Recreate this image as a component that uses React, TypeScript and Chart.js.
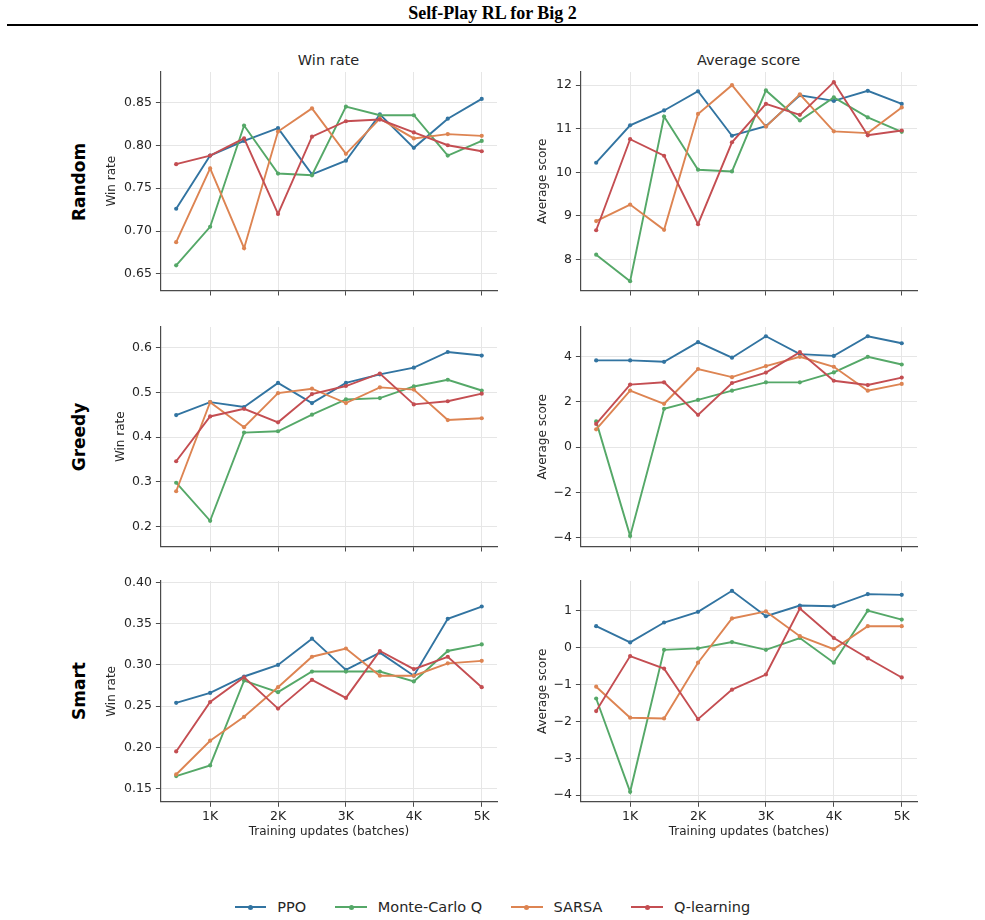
import React, { useEffect, useRef } from 'react';
import { Chart, registerables } from 'chart.js';
Chart.register(...registerables);
Chart.defaults.font.family = "'DejaVu Sans', sans-serif";

// ---------------- data ----------------
const steps = [500, 1000, 1500, 2000, 2500, 3000, 3500, 4000, 4500, 5000];
const xTickValues = [1000, 2000, 3000, 4000, 5000];
const xTickLabels = ['1K', '2K', '3K', '4K', '5K'];
const seriesNames = ['PPO', 'Monte-Carlo Q', 'SARSA', 'Q-learning'];
const seriesColors = ['#3274a1', '#55a868', '#dd8452', '#c44e52'];
const rowNames = ['Random', 'Greedy', 'Smart'];
const colNames = ['Win rate', 'Average score'];

const randomWinPPO = [0.726, 0.788, 0.805, 0.820, 0.766, 0.782, 0.836, 0.797, 0.831, 0.854];
const randomWinMCQ = [0.660, 0.705, 0.823, 0.767, 0.765, 0.845, 0.835, 0.835, 0.788, 0.805];
const randomWinSARSA = [0.687, 0.773, 0.680, 0.816, 0.843, 0.790, 0.831, 0.808, 0.813, 0.811];
const randomWinQ = [0.778, 0.788, 0.808, 0.720, 0.810, 0.828, 0.830, 0.815, 0.800, 0.793];

const randomScorePPO = [10.22, 11.08, 11.42, 11.86, 10.84, 11.06, 11.77, 11.64, 11.87, 11.57];
const randomScoreMCQ = [8.11, 7.50, 11.28, 10.06, 10.02, 11.88, 11.19, 11.72, 11.26, 10.93];
const randomScoreSARSA = [8.88, 9.26, 8.68, 11.34, 12.00, 11.05, 11.79, 10.94, 10.90, 11.49];
const randomScoreQ = [8.67, 10.76, 10.38, 8.81, 10.69, 11.57, 11.32, 12.07, 10.85, 10.96];

const greedyWinPPO = [0.449, 0.478, 0.467, 0.521, 0.476, 0.521, 0.540, 0.555, 0.590, 0.582];
const greedyWinMCQ = [0.298, 0.213, 0.410, 0.413, 0.450, 0.484, 0.487, 0.513, 0.528, 0.504];
const greedyWinSARSA = [0.279, 0.478, 0.422, 0.498, 0.508, 0.476, 0.511, 0.506, 0.438, 0.442];
const greedyWinQ = [0.346, 0.446, 0.463, 0.433, 0.496, 0.514, 0.542, 0.473, 0.480, 0.497];

const greedyScorePPO = [3.84, 3.84, 3.78, 4.65, 3.96, 4.91, 4.12, 4.04, 4.91, 4.60];
const greedyScoreMCQ = [1.14, -3.93, 1.70, 2.09, 2.50, 2.87, 2.87, 3.31, 4.00, 3.66];
const greedyScoreSARSA = [0.79, 2.50, 1.92, 3.46, 3.10, 3.59, 4.00, 3.56, 2.50, 2.80];
const greedyScoreQ = [1.03, 2.77, 2.87, 1.43, 2.84, 3.30, 4.21, 2.94, 2.75, 3.08];

const smartWinPPO = [0.254, 0.266, 0.286, 0.300, 0.332, 0.294, 0.315, 0.287, 0.356, 0.371];
const smartWinMCQ = [0.165, 0.178, 0.281, 0.267, 0.292, 0.292, 0.292, 0.280, 0.317, 0.325];
const smartWinSARSA = [0.167, 0.208, 0.237, 0.273, 0.310, 0.320, 0.287, 0.287, 0.302, 0.305];
const smartWinQ = [0.195, 0.255, 0.285, 0.247, 0.282, 0.260, 0.317, 0.295, 0.310, 0.273];

const smartScorePPO = [0.58, 0.14, 0.68, 0.97, 1.54, 0.85, 1.14, 1.12, 1.45, 1.43];
const smartScoreMCQ = [-1.38, -3.91, -0.06, -0.02, 0.15, -0.06, 0.26, -0.41, 1.00, 0.76];
const smartScoreSARSA = [-1.06, -1.90, -1.92, -0.41, 0.79, 0.98, 0.31, -0.04, 0.58, 0.58];
const smartScoreQ = [-1.72, -0.23, -0.57, -1.94, -1.14, -0.73, 1.06, 0.26, -0.29, -0.81];

const randomWinTicks = [0.65, 0.70, 0.75, 0.80, 0.85];
const randomScoreTicks = [8, 9, 10, 11, 12];
const greedyWinTicks = [0.2, 0.3, 0.4, 0.5, 0.6];
const greedyScoreTicks = [-4, -2, 0, 2, 4];
const smartWinTicks = [0.15, 0.20, 0.25, 0.30, 0.35, 0.40];
const smartScoreTicks = [-4, -3, -2, -1, 0, 1];

// ---------------- layout ----------------
const X_MIN = 275;
const X_MAX = 5225;
const COL_LEFT = [160.7, 580.7];
const COL_RIGHT = [496.3, 916.3];
const ROW_TOP = [71.7, 326.7, 581];
const ROW_BOTTOM = [292, 547.3, 801.7];

type PanelCfg = {
  row: number;
  col: number;
  series: number[][];
  yMin: number;
  yMax: number;
  yTicks: number[];
  decimals: number;
  yTitleCenter: number;
};

const panels: PanelCfg[] = [
  { row: 0, col: 0, series: [randomWinPPO, randomWinMCQ, randomWinSARSA, randomWinQ], yMin: 0.6307, yMax: 0.8854, yTicks: randomWinTicks, decimals: 2, yTitleCenter: 112 },
  { row: 0, col: 1, series: [randomScorePPO, randomScoreMCQ, randomScoreSARSA, randomScoreQ], yMin: 7.287, yMax: 12.303, yTicks: randomScoreTicks, decimals: 0, yTitleCenter: 543 },
  { row: 1, col: 0, series: [greedyWinPPO, greedyWinMCQ, greedyWinSARSA, greedyWinQ], yMin: 0.1556, yMax: 0.6458, yTicks: greedyWinTicks, decimals: 1, yTitleCenter: 121 },
  { row: 1, col: 1, series: [greedyScorePPO, greedyScoreMCQ, greedyScoreSARSA, greedyScoreQ], yMin: -4.40, yMax: 5.32, yTicks: greedyScoreTicks, decimals: 0, yTitleCenter: 543 },
  { row: 2, col: 0, series: [smartWinPPO, smartWinMCQ, smartWinSARSA, smartWinQ], yMin: 0.1338, yMax: 0.402, yTicks: smartWinTicks, decimals: 2, yTitleCenter: 112 },
  { row: 2, col: 1, series: [smartScorePPO, smartScoreMCQ, smartScoreSARSA, smartScoreQ], yMin: -4.18, yMax: 1.805, yTicks: smartScoreTicks, decimals: 0, yTitleCenter: 543 },
];

const PAD_L = 2;
const PAD_T = 14;
const PAD_R = 14;
const PAD_B = 2;
const TEXT = '#262626';
const GRID = '#e6e6e6';
const SPINE = '#4a4a4a';

function fmt(v: number, d: number) {
  return v.toFixed(d).replace('-', '\u2212');
}

function Panel({ cfg }: { cfg: PanelCfg }) {
  const ref = useRef<HTMLCanvasElement>(null);
  const bottomRow = cfg.row === 2;
  const L = COL_LEFT[cfg.col];
  const R = COL_RIGHT[cfg.col];
  const T = ROW_TOP[cfg.row];
  const B = ROW_BOTTOM[cfg.row];
  const yW = L - (cfg.yTitleCenter - 11.2);
  const xH = bottomRow ? 41.2 : 8;
  const width = Math.round(PAD_L + yW + (R - L) + PAD_R);
  const height = Math.round(PAD_T + (B - T) + xH + PAD_B);
  const left = L - yW - PAD_L;
  const top = T - PAD_T;

  useEffect(() => {
    const chart = new Chart(ref.current!, {
      type: 'line',
      data: {
        datasets: seriesNames.map((name, i) => ({
          label: name,
          data: steps.map((x, j) => ({ x, y: cfg.series[i][j] })),
          borderColor: seriesColors[i],
          backgroundColor: seriesColors[i],
          pointBackgroundColor: seriesColors[i],
          borderWidth: 1.9,
          pointRadius: 2.1,
          pointHoverRadius: 2.1,
          pointBorderWidth: 0,
          tension: 0,
          order: seriesNames.length - i,
        })),
      },
      options: {
        responsive: false,
        maintainAspectRatio: false,
        animation: false,
        devicePixelRatio: 1,
        events: [],
        layout: { padding: { left: PAD_L, top: PAD_T, right: PAD_R, bottom: PAD_B } },
        plugins: { legend: { display: false }, tooltip: { enabled: false }, title: { display: false } },
        scales: {
          x: {
            type: 'linear',
            min: X_MIN,
            max: X_MAX,
            afterBuildTicks: (s: any) => { s.ticks = xTickValues.map((v) => ({ value: v })); },
            afterFit: (s: any) => { s.height = xH; },
            grid: { color: GRID, lineWidth: 1, tickColor: SPINE, tickLength: 5, tickWidth: 1 },
            border: { color: SPINE, width: 1.2 },
            ticks: {
              display: bottomRow,
              autoSkip: false,
              maxRotation: 0,
              padding: 2,
              color: TEXT,
              font: { size: 12.5 },
              callback: (v: any) => xTickLabels[xTickValues.indexOf(Number(v))] ?? '',
            },
            title: { display: bottomRow, text: 'Training updates (batches)', color: TEXT, font: { size: 12 } },
          },
          y: {
            type: 'linear',
            min: cfg.yMin,
            max: cfg.yMax,
            afterBuildTicks: (s: any) => { s.ticks = cfg.yTicks.map((v) => ({ value: v })); },
            afterFit: (s: any) => { s.width = yW; },
            grid: { color: GRID, lineWidth: 1, tickColor: SPINE, tickLength: 5, tickWidth: 1 },
            border: { color: SPINE, width: 1.2 },
            ticks: {
              autoSkip: false,
              padding: 4,
              color: TEXT,
              font: { size: 12.5 },
              callback: (v: any) => fmt(Number(v), cfg.decimals),
            },
            title: { display: true, text: colNames[cfg.col], color: TEXT, font: { size: 12 } },
          },
        },
      },
    } as any);
    return () => chart.destroy();
  }, []);

  return (
    <canvas
      ref={ref}
      width={width}
      height={height}
      style={{ position: 'absolute', left, top, width, height, display: 'block' }}
    />
  );
}

function LegendItem({ name, color }: { name: string; color: string }) {
  return (
    <div style={{ display: 'flex', alignItems: 'center' }}>
      <div style={{ position: 'relative', width: 31.5, height: 2, background: color }}>
        <div style={{ position: 'absolute', left: 13.25, top: -1.5, width: 5, height: 5, borderRadius: '50%', background: color }} />
      </div>
      <span style={{ marginLeft: 11, fontSize: 14.5, color: TEXT, fontFamily: "'DejaVu Sans', sans-serif" }}>{name}</span>
    </div>
  );
}

export default function App() {
  const rowCenters = ROW_TOP.map((t, i) => (t + ROW_BOTTOM[i]) / 2);
  return (
    <div style={{ position: 'absolute', left: 0, top: 0, width: 985, height: 920, background: '#fff', overflow: 'hidden' }}>
      <div style={{ position: 'absolute', left: 0, top: 2, width: 985, textAlign: 'center', fontFamily: "'Liberation Serif', 'Times New Roman', serif", fontWeight: 'bold', fontSize: 18, lineHeight: '22px', color: '#000' }}>
        Self-Play RL for Big 2
      </div>
      <div style={{ position: 'absolute', left: 7, top: 24, width: 971, height: 2, background: '#000' }} />
      {colNames.map((c, i) => (
        <div key={c} style={{ position: 'absolute', left: (COL_LEFT[i] + COL_RIGHT[i]) / 2, top: 60, transform: 'translate(-50%, -50%)', whiteSpace: 'nowrap', fontFamily: "'DejaVu Sans', sans-serif", fontSize: 14.5, color: TEXT }}>
          {c}
        </div>
      ))}
      {rowNames.map((r, i) => (
        <div key={r} style={{ position: 'absolute', left: 79, top: rowCenters[i], transform: 'translate(-50%, -50%) rotate(-90deg)', whiteSpace: 'nowrap', fontFamily: "'DejaVu Sans', sans-serif", fontWeight: 'bold', fontSize: 17, color: '#000' }}>
          {r}
        </div>
      ))}
      {panels.map((p, i) => <Panel key={i} cfg={p} />)}
      <div style={{ position: 'absolute', left: 0, top: 907, width: 985, transform: 'translateY(-50%)', display: 'flex', justifyContent: 'center', gap: 29 }}>
        {seriesNames.map((n, i) => <LegendItem key={n} name={n} color={seriesColors[i]} />)}
      </div>
    </div>
  );
}
